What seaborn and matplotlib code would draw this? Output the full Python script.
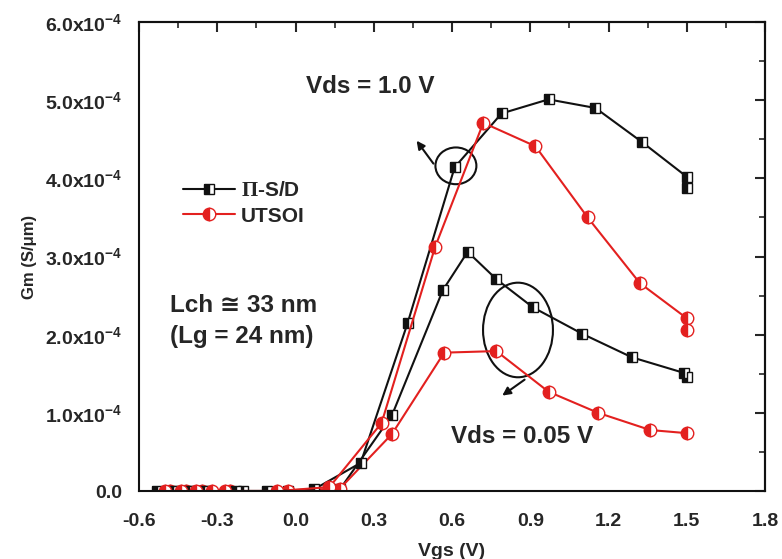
import numpy as np
import pandas as pd
import matplotlib
matplotlib.use("Agg")
import matplotlib.pyplot as plt
import seaborn as sns
from matplotlib.patches import Ellipse
from matplotlib.ticker import MultipleLocator, FuncFormatter

# ---- data (Gm in units of 1e-4 S/um) ----
pisd_10_vgs = [-0.53, -0.47, -0.41, -0.35, -0.23, -0.11, 0.07, 0.25, 0.43, 0.61, 0.79, 0.97, 1.15, 1.33, 1.50, 1.50]
pisd_10_gm = [0.0, 0.0, 0.0, 0.0, 0.0, 0.0, 0.02, 0.36, 2.15, 4.14, 4.83, 5.01, 4.90, 4.46, 4.02, 3.87]

utsoi_10_vgs = [-0.50, -0.44, -0.38, -0.32, -0.27, -0.07, 0.13, 0.33, 0.535, 0.72, 0.92, 1.12, 1.32, 1.50, 1.50]
utsoi_10_gm = [0.0, 0.0, 0.0, 0.0, 0.0, 0.0, 0.05, 0.87, 3.12, 4.71, 4.41, 3.50, 2.66, 2.21, 2.06]

pisd_005_vgs = [-0.45, -0.39, -0.33, -0.20, -0.03, 0.17, 0.37, 0.565, 0.66, 0.77, 0.91, 1.10, 1.29, 1.49, 1.50]
pisd_005_gm = [0.0, 0.0, 0.0, 0.0, 0.0, 0.02, 0.97, 2.57, 3.06, 2.71, 2.35, 2.01, 1.71, 1.51, 1.46]

utsoi_005_vgs = [-0.48, -0.42, -0.36, -0.25, -0.03, 0.17, 0.37, 0.57, 0.77, 0.97, 1.16, 1.36, 1.50]
utsoi_005_gm = [0.0, 0.0, 0.0, 0.0, 0.0, 0.03, 0.73, 1.77, 1.79, 1.27, 1.00, 0.78, 0.74]

legend_labels = [r"$\mathrm{\Pi}$-S/D", "UTSOI"]
x_ticks = [-0.6, -0.3, 0.0, 0.3, 0.6, 0.9, 1.2, 1.5, 1.8]
y_ticks = [0, 1, 2, 3, 4, 5, 6]

sns.set_style("white")
plt.rcParams['font.family'] = ['Liberation Sans', 'DejaVu Sans']
plt.rcParams['font.weight'] = 'bold'
plt.rcParams['axes.unicode_minus'] = False
plt.rcParams['mathtext.fontset'] = 'custom'
plt.rcParams['mathtext.rm'] = 'Liberation Serif'
plt.rcParams['mathtext.bf'] = 'Liberation Sans:bold'
plt.rcParams['mathtext.it'] = 'Liberation Sans:italic'
plt.rcParams['mathtext.sf'] = 'Liberation Sans'

W, H = 782, 559
fig = plt.figure(figsize=(W / 100, H / 100), dpi=100)
ax = fig.add_axes([139 / W, 1 - 491 / H, (765 - 139) / W, (491 - 22) / H])

BLACK = '#111111'
RED = '#e3201f'

sq = dict(marker='s', markersize=7.5, fillstyle='left', markerfacecoloralt='white',
          markeredgewidth=1.0)
ci = dict(marker='o', markersize=9, fillstyle='left', markerfacecoloralt='white',
          markeredgewidth=1.0)

def draw(xs, ys, color, mk, label=None):
    df = pd.DataFrame({'Vgs': xs, 'Gm': np.array(ys) * 1e-4})
    sns.lineplot(data=df, x='Vgs', y='Gm', ax=ax, estimator=None, sort=False,
                 color=color, linewidth=1.5, markerfacecolor=color,
                 markeredgecolor=color, label=label, legend=False, **mk)

draw(pisd_005_vgs, pisd_005_gm, BLACK, sq)
draw(utsoi_005_vgs, utsoi_005_gm, RED, ci)
draw(pisd_10_vgs, pisd_10_gm, BLACK, sq, legend_labels[0])
draw(utsoi_10_vgs, utsoi_10_gm, RED, ci, legend_labels[1])

ax.set_xlim(-0.6, 1.8)
ax.set_ylim(0, 6e-4)
ax.set_xticks(x_ticks)
ax.set_yticks([v * 1e-4 for v in y_ticks])
ax.xaxis.set_minor_locator(MultipleLocator(0.15))
ax.yaxis.set_minor_locator(MultipleLocator(0.5e-4))

def yfmt(v, pos):
    m = v / 1e-4
    if abs(m) < 1e-9:
        return "0.0"
    return "%.1fx10$^{\\mathbf{-4}}$" % m

ax.yaxis.set_major_formatter(FuncFormatter(yfmt))
ax.xaxis.set_major_formatter(FuncFormatter(lambda v, p: "%.1f" % v))

for s in ax.spines.values():
    s.set_linewidth(1.5)
    s.set_color('#111111')
ax.tick_params(which='major', direction='out', length=8, width=1.5, labelsize=14, pad=4)
ax.tick_params(axis='x', which='major', pad=8)
ax.tick_params(which='minor', direction='out', length=5, width=1.2)
for lab in ax.get_xticklabels() + ax.get_yticklabels():
    lab.set_fontweight('bold')

secx = ax.secondary_xaxis('top')
secx.set_xticks(x_ticks)
secx.xaxis.set_minor_locator(MultipleLocator(0.15))
secx.tick_params(which='major', direction='in', length=7, width=1.5, labeltop=False)
secx.tick_params(which='minor', direction='in', length=4, width=1.2)
secy = ax.secondary_yaxis('right')
secy.set_yticks([v * 1e-4 for v in y_ticks])
secy.yaxis.set_minor_locator(MultipleLocator(0.5e-4))
secy.tick_params(which='major', direction='in', length=7, width=1.5, labelright=False)
secy.tick_params(which='minor', direction='in', length=4, width=1.2)
for s in list(secx.spines.values()) + list(secy.spines.values()):
    s.set_linewidth(1.5)

ax.set_xlabel("Vgs (V)", fontsize=14, fontweight='bold', labelpad=9)
ax.set_ylabel("Gm (S/\u03bcm)", fontsize=12, fontweight='bold', labelpad=6)

# annotations
ax.text(0.285, 5.17e-4, "Vds = 1.0 V", fontsize=17.5, fontweight='bold', ha='center', va='center')
ax.text(0.868, 0.70e-4, "Vds = 0.05 V", fontsize=17.5, fontweight='bold', ha='center', va='center')
ax.text(-0.48, 2.37e-4, "Lch \u2245 33 nm", fontsize=17.5, fontweight='bold', ha='left', va='center')
ax.text(-0.48, 1.98e-4, "(Lg = 24 nm)", fontsize=17.5, fontweight='bold', ha='left', va='center')

ax.add_patch(Ellipse((0.615, 4.16e-4), 0.157, 0.47e-4, fill=False, edgecolor=BLACK, linewidth=1.5))
ax.add_patch(Ellipse((0.853, 2.06e-4), 0.268, 1.21e-4, fill=False, edgecolor=BLACK, linewidth=1.5))
ax.annotate("", xy=(0.458, 4.51e-4), xytext=(0.535, 4.16e-4),
            arrowprops=dict(arrowstyle='-|>', color=BLACK, lw=1.5, mutation_scale=12))
ax.annotate("", xy=(0.784, 1.20e-4), xytext=(0.887, 1.445e-4),
            arrowprops=dict(arrowstyle='-|>', color=BLACK, lw=1.5, mutation_scale=12))

handles = [l for l in ax.lines if l.get_label() in legend_labels]
leg = ax.legend(handles=handles, labels=legend_labels, loc='upper left',
                bbox_to_anchor=(0.04, 0.70), frameon=False,
                handlelength=2.5, handletextpad=0.3, labelspacing=0.3,
                prop={'weight': 'bold', 'size': 15})

fig.savefig("out.png", dpi=100)
